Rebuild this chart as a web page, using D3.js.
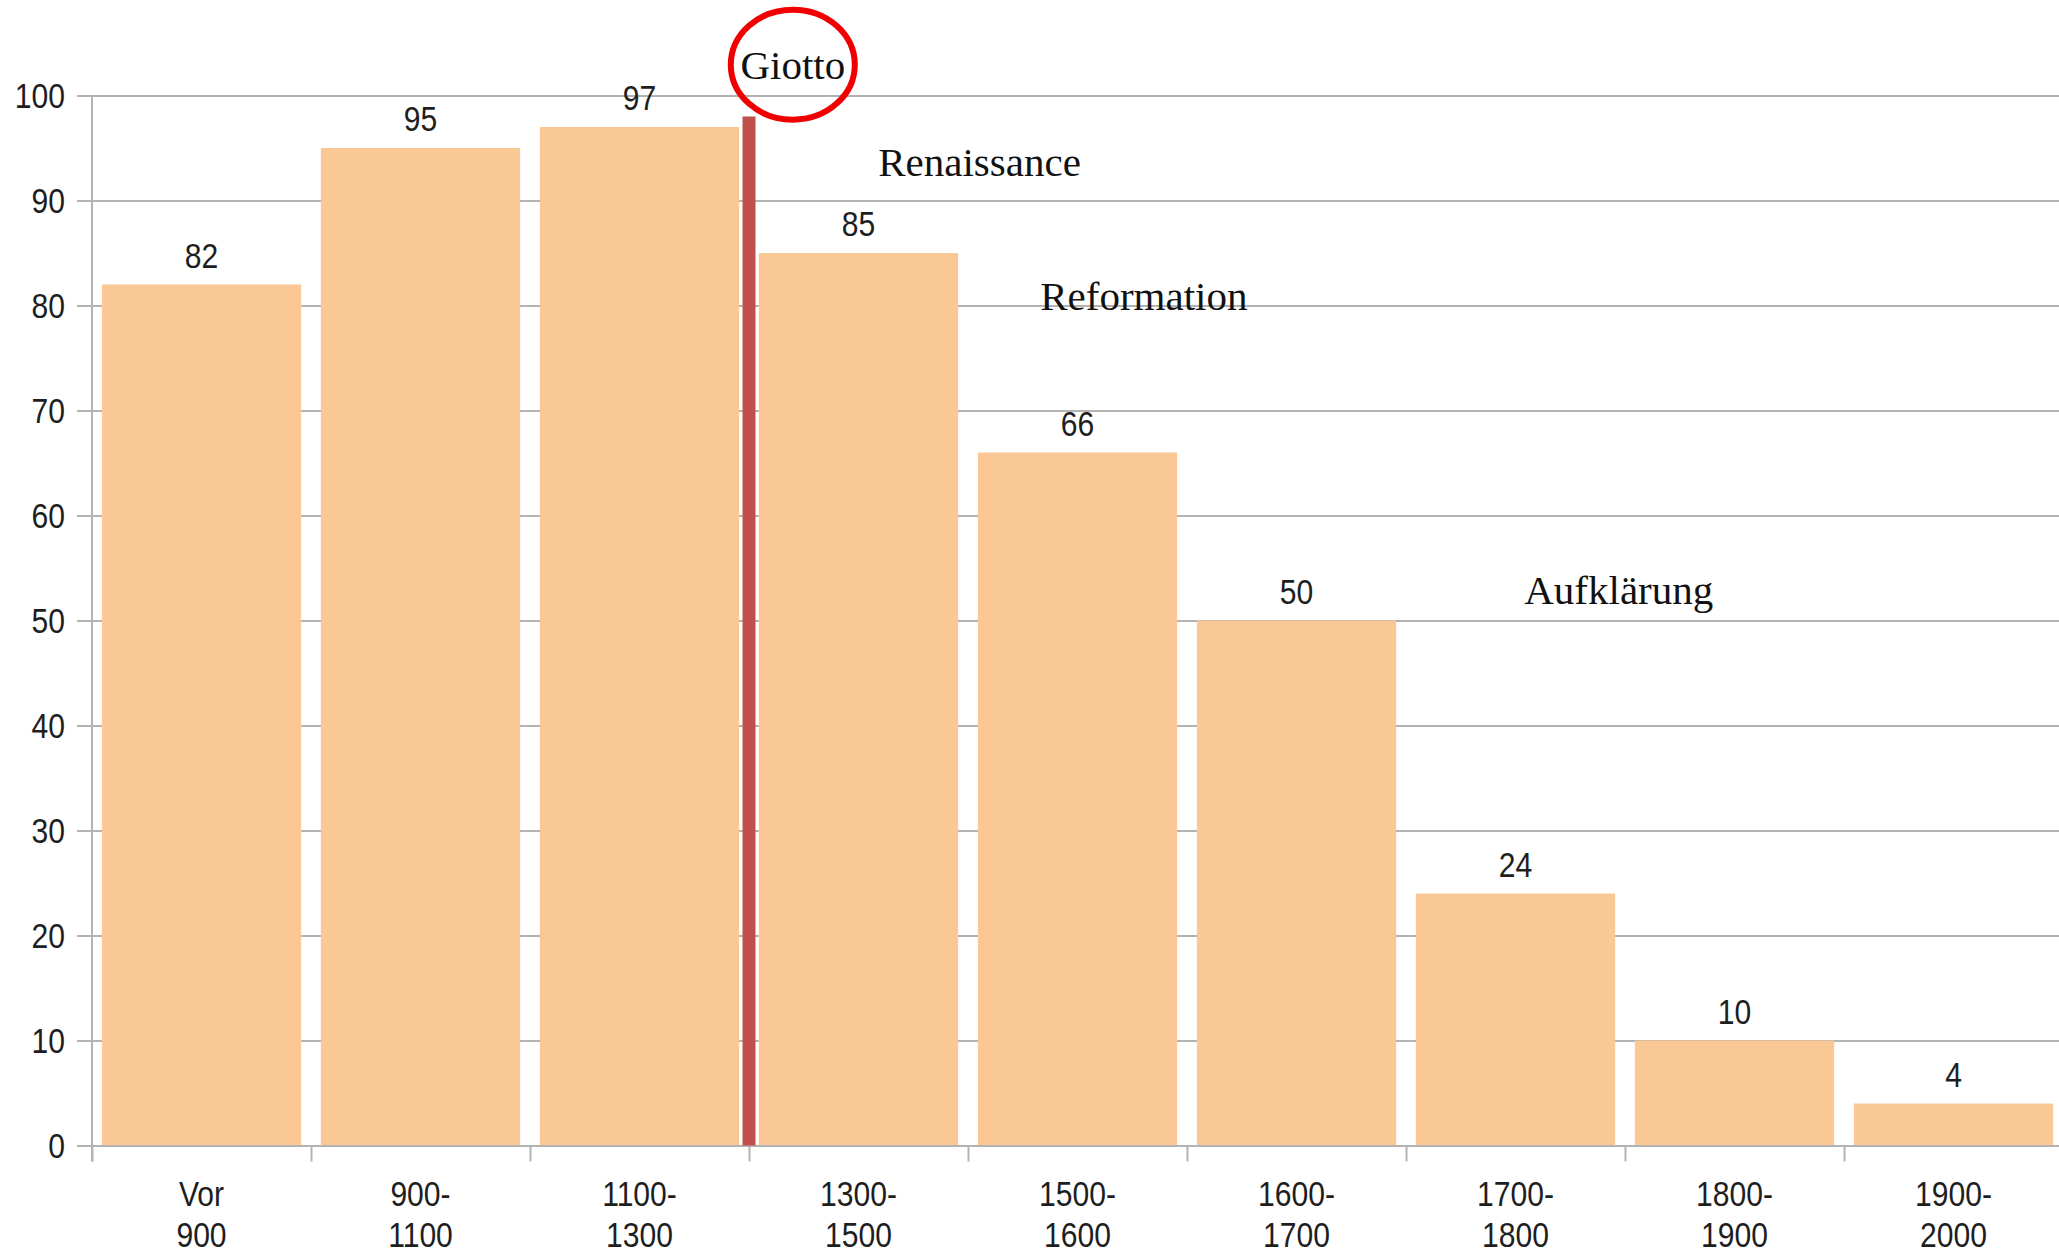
<!DOCTYPE html>
<html>
<head>
<meta charset="utf-8">
<script src="https://cdn.jsdelivr.net/npm/d3@7"></script>
<style>
  body { margin: 0; background: #fff; }
  svg { display: block; }
</style>
</head>
<body>
<div id="chart"></div>
<script>
// data
const periods = ["Vor 900", "900-1100", "1100-1300", "1300-1500", "1500-1600",
                 "1600-1700", "1700-1800", "1800-1900", "1900-2000"];
const periodTop = ["Vor", "900-", "1100-", "1300-", "1500-", "1600-", "1700-", "1800-", "1900-"];
const periodBottom = ["900", "1100", "1300", "1500", "1600", "1700", "1800", "1900", "2000"];
const counts = [82, 95, 97, 85, 66, 50, 24, 10, 4];
const yTicks = [0, 10, 20, 30, 40, 50, 60, 70, 80, 90, 100];

// epoch notes, anchored in (category index, value) space
const epochs = ["Giotto", "Renaissance", "Reformation", "Aufklärung"];
const epochIndex = [3.2, 3.59, 4.33, 6.54];
const epochValue = [101.6, 92.3, 79.6, 51.6];
const giottoBoundary = 3;   // between 1100-1300 and 1300-1500
const giottoLineTop = 98;

const W = 2059, H = 1254;
const margin = { top: 95.5, right: 0, bottom: 108.5, left: 92 };
const width = 1971;
const height = H - margin.top - margin.bottom;

const svg = d3.select("#chart").append("svg")
    .attr("width", W)
    .attr("height", H)
    .style("background", "#fff");

const g = svg.append("g")
    .attr("transform", `translate(${margin.left},${margin.top})`);

const x = d3.scaleBand()
    .domain(periods)
    .range([0, width])
    .paddingInner(0.09)
    .paddingOuter(0.045);

// continuous index scale, for boundaries and notes
const xi = d3.scaleLinear()
    .domain([0, periods.length])
    .range([0, width]);

const y = d3.scaleLinear()
    .domain([0, 100])
    .range([height, 0]);

const gridColor = "#b3b3b3";
const textColor = "#1e1e1e";
const sans = "'Liberation Sans', Arial, sans-serif";
const serif = "'Liberation Serif', 'Times New Roman', serif";

// gridlines
const grid = g.append("g")
    .call(d3.axisLeft(y).tickValues(yTicks).tickSize(-(width + 20)).tickFormat(""));
grid.select(".domain").remove();
grid.selectAll("line").attr("stroke", gridColor).attr("stroke-width", 2);

// bars
g.selectAll("rect.bar")
    .data(counts)
    .join("rect")
    .attr("class", "bar")
    .attr("x", (d, i) => x(periods[i]))
    .attr("y", d => y(d))
    .attr("width", x.bandwidth())
    .attr("height", d => height - y(d))
    .attr("fill", "#fac894");

// value labels
g.selectAll("text.val")
    .data(counts)
    .join("text")
    .attr("class", "val")
    .attr("transform", (d, i) => `translate(${x(periods[i]) + x.bandwidth() / 2},${y(d) - 17}) scale(0.86,1)`)
    .attr("text-anchor", "middle")
    .style("font-family", sans)
    .style("font-size", "35px")
    .style("fill", textColor)
    .text(d => d);

// y axis
const yAxis = g.append("g")
    .call(d3.axisLeft(y).tickValues(yTicks).tickSize(15).tickPadding(0));
yAxis.select(".domain").remove();
yAxis.selectAll("line").attr("stroke", gridColor).attr("stroke-width", 2);
yAxis.selectAll("text")
    .attr("x", 0)
    .attr("dy", null)
    .attr("transform", "translate(-27,12) scale(0.86,1)")
    .style("font-family", sans)
    .style("font-size", "35px")
    .style("fill", textColor);

// x axis: ticks at category boundaries
const xAxis = g.append("g")
    .attr("transform", `translate(0,${height})`)
    .call(d3.axisBottom(xi).tickValues(d3.range(0, periods.length + 1)).tickSize(16).tickSizeOuter(0).tickFormat(""));
xAxis.select(".domain").attr("stroke", gridColor).attr("stroke-width", 2);
xAxis.selectAll("line").attr("stroke", gridColor).attr("stroke-width", 2);

// vertical axis line
g.append("line")
    .attr("x1", 0).attr("x2", 0)
    .attr("y1", y(100)).attr("y2", height + 16)
    .attr("stroke", gridColor)
    .attr("stroke-width", 2);

// category labels (two lines)
const cat = g.append("g").selectAll("g")
    .data(periods)
    .join("g")
    .attr("transform", d => `translate(${x(d) + x.bandwidth() / 2},0)`);
cat.append("text")
    .attr("transform", `translate(0,${height + 60}) scale(0.86,1)`)
    .attr("text-anchor", "middle")
    .style("font-family", sans)
    .style("font-size", "35px")
    .style("fill", textColor)
    .text((d, i) => periodTop[i]);
cat.append("text")
    .attr("transform", `translate(0,${height + 101}) scale(0.86,1)`)
    .attr("text-anchor", "middle")
    .style("font-family", sans)
    .style("font-size", "35px")
    .style("fill", textColor)
    .text((d, i) => periodBottom[i]);

// Giotto marker line
g.append("line")
    .attr("x1", xi(giottoBoundary)).attr("x2", xi(giottoBoundary))
    .attr("y1", y(giottoLineTop)).attr("y2", y(0))
    .attr("stroke", "#c0504d")
    .attr("stroke-width", 13);

// epoch notes
g.selectAll("text.epoch")
    .data(epochs)
    .join("text")
    .attr("class", "epoch")
    .attr("x", (d, i) => xi(epochIndex[i]))
    .attr("y", (d, i) => y(epochValue[i]))
    .attr("text-anchor", (d, i) => i === 0 ? "middle" : "start")
    .style("font-family", serif)
    .style("font-size", "41px")
    .style("fill", "#111")
    .text(d => d);

// red ring round Giotto
g.append("ellipse")
    .attr("cx", xi(epochIndex[0]))
    .attr("cy", y(epochValue[0]) - 14)
    .attr("rx", 62)
    .attr("ry", 55)
    .attr("fill", "none")
    .attr("stroke", "#f00000")
    .attr("stroke-width", 6);
</script>
</body>
</html>
